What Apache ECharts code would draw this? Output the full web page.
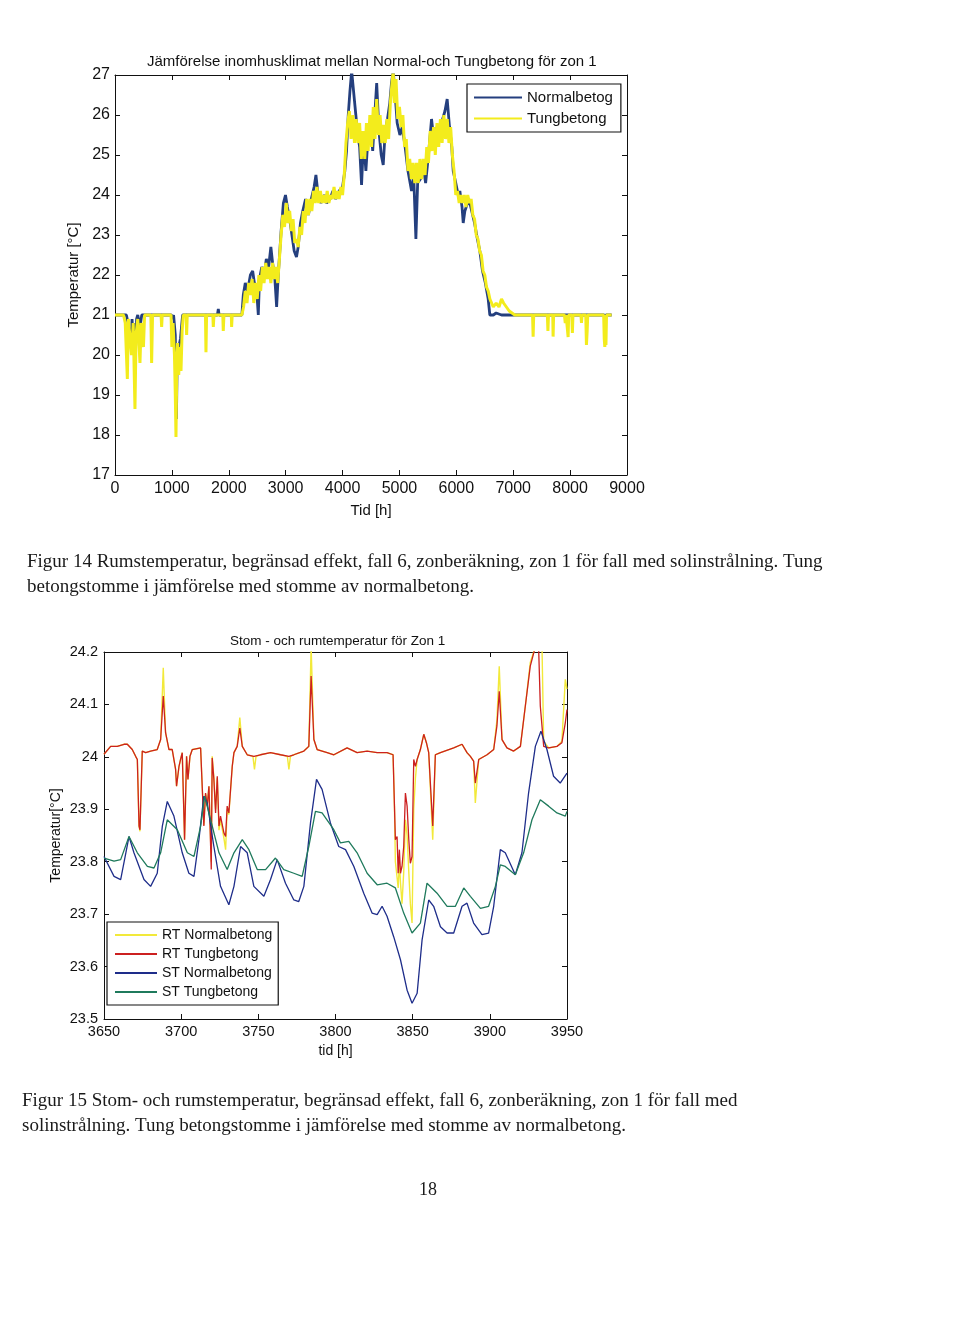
<!DOCTYPE html>
<html>
<head>
<meta charset="utf-8">
<script src="https://cdn.jsdelivr.net/npm/echarts@6/dist/echarts.min.js"></script>
<style>
html,body{margin:0;padding:0;background:#fff;}
#chart{width:960px;height:1344px;}
</style>
</head>
<body>
<div id="chart"></div>
<script>
// ---------- Figure 14: hourly room temperature, zone 1 ----------
const fig14Title = 'Jämförelse inomhusklimat mellan Normal-och Tungbetong för zon 1';
const fig14XTicks = [0, 1000, 2000, 3000, 4000, 5000, 6000, 7000, 8000, 9000];
const fig14YTicks = [17, 18, 19, 20, 21, 22, 23, 24, 25, 26, 27];
const fig14Names = ['Normalbetog', 'Tungbetong'];

// [hour, °C]
const normalbetong = [
[0,21],[200,21],[230,20.8],[260,20.5],[285,20.4],[300,20.9],[320,20.2],[345,20.8],[360,20.1],[380,20.9],[400,21],
[440,20.7],[470,21],[990,21],[1010,20.9],[1030,21],[1060,20.5],[1072,19.2],[1080,18.4],[1095,20.1],[1120,20.2],[1150,20.4],[1189,21],
[1800,21],[1816,21.15],[1830,21],
[2230,21],[2255,21.5],[2290,21.8],[2330,21.6],[2380,22.0],[2420,22.1],[2450,21.8],[2490,21.6],[2519,21.0],[2540,21.9],[2580,22.2],[2620,22.0],[2660,22.4],[2700,22.2],[2740,22.7],[2770,22.3],[2810,21.9],[2841,21.2],[2870,22.0],[2920,23.1],[2960,23.8],[2997,24.0],[3030,23.7],[3070,23.4],[3110,23.0],[3150,22.6],[3190,22.45],[3220,22.7],[3260,23.3],[3300,23.6],[3350,23.9],[3400,23.5],[3450,23.9],[3500,24.2],[3532,24.5],[3570,24.0],[3620,23.8],[3680,24.0],[3720,23.8],[3780,23.9],[3830,24.1],[3880,23.9],[3940,24.1],[4000,24.2],[4040,24.6],[4070,25.1],[4100,26.0],[4130,26.6],[4160,27.1],[4190,27.1],[4220,26.2],[4260,25.6],[4300,25.2],[4334,24.25],[4370,25.4],[4410,24.6],[4450,25.5],[4490,25.8],[4530,25.1],[4570,26.1],[4600,26.8],[4640,25.6],[4680,25.0],[4715,24.75],[4750,25.6],[4790,25.9],[4830,26.3],[4860,26.8],[4890,27.1],[4920,26.6],[4960,25.8],[5008,25.5],[5050,25.7],[5100,25.2],[5150,24.6],[5213,24.1],[5250,24.5],[5289,22.9],[5320,24.3],[5370,24.4],[5420,24.7],[5460,24.3],[5510,25.0],[5564,25.9],[5610,25.3],[5660,25.7],[5710,25.4],[5760,25.9],[5800,26.1],[5839,26.4],[5880,25.7],[5920,25.2],[5945,24.6],[5990,24.3],[6033,24.0],[6062,24.1],[6100,23.7],[6121,23.3],[6150,23.6],[6178,23.55],[6220,23.9],[6270,23.6],[6320,23.3],[6370,22.9],[6413,22.6],[6460,22.1],[6510,21.8],[6560,21.4],[6589,21.0],[6650,21.0],[6700,21.05],[6794,21.0],[8600,21],[8610,20.9],[8630,21],[8730,21]
];
const tungbetong = [
[0,21],[150,21],[180,20.8],[217,19.4],[235,20.9],[260,20.5],[290,20.0],[320,20.8],[351,18.65],[370,20.5],[400,20.9],[439,19.8],[460,20.8],[500,20.2],[520,21],
[630,21],[644,19.8],[660,21],[810,21],[820,20.7],[830,21],[985,21],[1000,20.2],[1020,20.8],[1045,20.0],[1060,19.0],[1072,17.95],[1085,19.5],[1100,20.3],[1120,19.5],[1140,20.2],[1160,19.6],[1180,20.6],[1200,21],[1250,21],[1259,20.5],[1270,21],
[1590,21],[1599,20.07],[1610,21],[1720,21],[1728,20.7],[1740,21],[1895,21],[1903,20.6],[1915,21],[2045,21],[2050,20.7],[2060,21],
[2230,21],[2260,21.2],[2290,21.6],[2320,21.3],[2350,21.8],[2380,21.5],[2410,21.9],[2440,21.3],[2470,21.8],[2500,21.4],[2530,22.0],[2560,21.6],[2590,22.2],[2620,21.8],[2650,22.3],[2680,21.9],[2710,22.2],[2740,21.8],[2770,22.3],[2800,21.9],[2830,22.2],[2860,21.8],[2890,22.4],[2920,23.0],[2950,23.5],[2980,23.2],[3010,23.8],[3040,23.3],[3070,23.6],[3100,23.1],[3130,23.4],[3160,22.8],[3190,22.9],[3220,22.7],[3250,23.2],[3280,23.0],[3310,23.6],[3340,23.3],[3370,23.9],[3400,23.5],[3430,23.9],[3460,23.6],[3490,24.1],[3520,23.8],[3550,24.2],[3580,23.8],[3610,24.1],[3640,23.8],[3670,24.0],[3700,23.8],[3730,24.1],[3760,23.8],[3790,24.0],[3820,23.9],[3850,24.2],[3880,23.9],[3910,24.1],[3940,23.9],[3970,24.2],[4000,24.0],[4030,24.5],[4060,25.3],[4090,25.8],[4120,26.1],[4150,25.4],[4180,26.0],[4210,25.3],[4240,25.9],[4270,25.3],[4300,25.8],[4330,24.9],[4360,25.6],[4390,24.9],[4420,25.8],[4450,25.1],[4480,26.0],[4510,25.2],[4540,26.2],[4570,25.4],[4600,26.4],[4630,25.5],[4660,26.0],[4690,25.3],[4720,25.75],[4750,25.3],[4780,25.9],[4810,25.4],[4840,26.3],[4870,26.8],[4890,27.1],[4910,26.3],[4940,26.9],[4970,25.9],[5000,26.2],[5030,25.7],[5060,26.0],[5090,25.2],[5120,25.4],[5150,24.6],[5180,24.9],[5210,24.4],[5240,24.8],[5270,24.3],[5300,24.8],[5330,24.3],[5360,24.9],[5390,24.4],[5420,24.9],[5450,24.5],[5480,25.2],[5510,24.8],[5540,25.6],[5570,25.1],[5600,25.7],[5630,25.0],[5660,25.8],[5690,25.2],[5720,25.9],[5750,25.3],[5780,26.0],[5810,25.4],[5840,25.9],[5870,25.3],[5900,25.7],[5930,25.0],[5960,24.6],[5990,24.0],[6020,24.1],[6050,23.8],[6080,24.0],[6110,23.8],[6140,24.0],[6170,23.7],[6200,24.0],[6230,23.8],[6260,23.9],[6290,23.5],[6320,23.4],[6350,23.0],[6380,22.9],[6410,22.6],[6440,22.5],[6470,22.1],[6500,22.0],[6530,21.7],[6560,21.6],[6590,21.4],[6620,21.3],[6650,21.2],[6700,21.3],[6750,21.2],[6794,21.4],[6830,21.3],[6880,21.2],[6930,21.1],[7028,21.0],
[7340,21],[7350,20.46],[7360,21],[7600,21],[7610,20.6],[7620,21],[7695,21],[7701,20.46],[7710,21],[7900,21],[7915,20.8],[7930,21],[7955,21],[7965,20.45],[7975,21],[8030,21],[8040,20.55],[8050,21],[8190,21],[8200,20.8],[8210,21],[8275,21],[8287,20.25],[8300,20.6],[8310,21],[8590,21],[8600,20.4],[8610,20.2],[8620,20.5],[8630,20.25],[8640,21],[8730,21]
];

// ---------- Figure 15: structure and room temperature, zone 1 ----------
const fig15Title = 'Stom - och rumtemperatur för Zon 1';
const fig15XTicks = [3650, 3700, 3750, 3800, 3850, 3900, 3950];
const fig15YTicks = [23.5, 23.6, 23.7, 23.8, 23.9, 24.0, 24.1, 24.2];
const fig15Names = ['RT Normalbetong', 'RT Tungbetong', 'ST Normalbetong', 'ST Tungbetong'];

const rtNormal = [
[3650,24.005],[3654.3,24.02],[3658.6,24.02],[3663,24.024],[3665.1,24.024],[3668.3,24.014],[3670.5,24.001],[3671.6,23.995],[3672.7,23.868],[3673.3,23.858],[3674.8,24.011],[3677,24.008],[3680.2,24.011],[3684.5,24.014],[3686.7,24.033],[3688.4,24.17],[3689.9,24.046],[3692.1,24.014],[3694.2,24.014],[3696.4,23.976],[3697,23.944],[3698.6,23.982],[3699.6,23.995],[3700.7,24.008],[3702.2,23.842],[3703.5,24.001],[3704.4,23.957],[3705.7,24.001],[3707.2,24.014],[3712.6,24.017],[3713.7,24.014],[3714.7,23.87],[3715.8,23.93],[3716.9,23.91],[3718,23.944],[3719.5,23.8],[3720.1,24.001],[3721.2,23.96],[3722.3,23.9],[3723.4,23.96],[3724.5,23.86],[3725.5,23.88],[3727.7,23.845],[3728.8,23.823],[3729.8,23.9],[3730.9,23.89],[3733.1,23.982],[3734.2,24.008],[3736.3,24.02],[3738,24.075],[3739.6,24.02],[3742.8,24.004],[3746.5,24.001],[3747.5,23.976],[3748.5,24.001],[3751.4,24.004],[3757.9,24.008],[3764.4,24.004],[3768.8,24.001],[3769.8,23.976],[3770.8,24.001],[3773,24.004],[3779.5,24.011],[3782.7,24.02],[3784.2,24.21],[3786,24.033],[3788.1,24.014],[3794.6,24.008],[3798.9,24.004],[3807.5,24.017],[3814,24.008],[3820.5,24.011],[3827,24.008],[3833.4,24.008],[3837.3,24.004],[3838.2,23.906],[3838.8,23.8],[3839.9,23.77],[3840.6,23.75],[3841.4,23.8],[3842.1,23.76],[3843.1,23.72],[3844.2,23.78],[3845.3,23.88],[3846.4,23.85],[3847.5,23.78],[3848.5,23.72],[3849.6,23.683],[3850.7,23.9],[3851.8,23.96],[3852.9,23.995],[3855,24.014],[3857.2,24.043],[3858.9,24.027],[3860.4,24.008],[3861.5,24.008],[3863,23.842],[3864.7,24.004],[3868,24.008],[3876.6,24.017],[3882,24.024],[3885.2,24.008],[3887.4,24.001],[3889.5,23.992],[3890.6,23.912],[3892.8,23.995],[3898.2,24.004],[3902.5,24.014],[3904.6,24.07],[3906.1,24.173],[3907.9,24.033],[3911.1,24.017],[3915.4,24.011],[3919.8,24.02],[3923,24.097],[3926.2,24.18],[3929.5,24.21],[3933.8,24.21],[3934.9,24.03],[3938.1,24.017],[3943.5,24.02],[3946.7,24.03],[3948.9,24.148],[3950,24.129]
];
const rtTung = [
[3650,24.005],[3654.3,24.02],[3658.6,24.02],[3663,24.024],[3665.1,24.024],[3668.3,24.014],[3670.5,24.001],[3671.6,23.995],[3672.7,23.868],[3673.3,23.861],[3674.8,24.011],[3677,24.008],[3680.2,24.011],[3684.5,24.014],[3686.7,24.033],[3688.4,24.116],[3689.9,24.046],[3692.1,24.014],[3694.2,24.014],[3696.4,23.976],[3697,23.944],[3698.6,23.982],[3699.6,23.995],[3700.7,24.008],[3702.2,23.842],[3703.5,24.001],[3704.4,23.957],[3705.7,24.001],[3707.2,24.014],[3712.6,24.017],[3713.7,24.014],[3714.7,23.868],[3715.8,23.931],[3716.9,23.906],[3718,23.944],[3719.5,23.785],[3720.1,23.998],[3721.2,23.957],[3722.3,23.893],[3723.4,23.963],[3724.5,23.868],[3725.5,23.887],[3727.7,23.855],[3728.8,23.848],[3729.8,23.906],[3730.9,23.893],[3733.1,23.982],[3734.2,24.008],[3736.3,24.02],[3738,24.055],[3739.6,24.02],[3742.8,24.004],[3747.1,24.001],[3751.4,24.004],[3757.9,24.008],[3764.4,24.004],[3769.8,24.001],[3773,24.004],[3779.5,24.011],[3782.7,24.02],[3784.2,24.154],[3786,24.033],[3788.1,24.014],[3794.6,24.008],[3798.9,24.004],[3807.5,24.017],[3814,24.008],[3820.5,24.011],[3827,24.008],[3833.4,24.008],[3837.3,24.004],[3838.2,23.906],[3838.8,23.842],[3839.9,23.848],[3840.6,23.778],[3841.4,23.823],[3842.1,23.778],[3843.1,23.791],[3844.2,23.829],[3845.3,23.931],[3846.4,23.906],[3847.5,23.842],[3848.5,23.797],[3849.6,23.81],[3850.7,23.995],[3851.8,23.982],[3852.9,23.995],[3855,24.014],[3857.2,24.043],[3858.9,24.027],[3860.4,24.008],[3861.5,24.008],[3863,23.868],[3864.7,24.004],[3868,24.008],[3876.6,24.017],[3882,24.024],[3885.2,24.008],[3887.4,24.001],[3889.5,23.992],[3890.6,23.95],[3892.8,23.995],[3898.2,24.004],[3902.5,24.014],[3904.6,24.059],[3906.1,24.125],[3907.9,24.033],[3911.1,24.017],[3915.4,24.011],[3919.8,24.02],[3923,24.097],[3926.2,24.173],[3929.5,24.21],[3931.6,24.21],[3932.7,24.097],[3934.9,24.02],[3938.1,24.017],[3943.5,24.02],[3946.7,24.027],[3948.9,24.065],[3950,24.09]
];
const stNormal = [
[3650,23.81],[3656.5,23.772],[3660.8,23.766],[3666.2,23.848],[3669.4,23.817],[3675.9,23.766],[3680.2,23.753],[3684.5,23.778],[3687.8,23.868],[3691,23.915],[3695.3,23.887],[3700.7,23.817],[3705,23.778],[3708.3,23.772],[3711.5,23.842],[3714.7,23.925],[3716.9,23.912],[3721.2,23.829],[3725.5,23.753],[3730.9,23.718],[3734.2,23.753],[3738.5,23.829],[3742.8,23.817],[3747.1,23.753],[3753.6,23.734],[3757.9,23.766],[3762.2,23.804],[3767.6,23.759],[3773,23.727],[3776.2,23.724],[3779.5,23.753],[3783.8,23.874],[3787.7,23.957],[3791.3,23.938],[3796.7,23.874],[3802.1,23.829],[3806.5,23.823],[3811.9,23.791],[3818.3,23.74],[3823.7,23.702],[3827,23.699],[3830.2,23.715],[3833.4,23.696],[3837.7,23.657],[3842.1,23.613],[3846.4,23.555],[3849.6,23.53],[3852.9,23.549],[3856.1,23.651],[3860.4,23.727],[3863.6,23.715],[3868,23.676],[3872.3,23.664],[3876.6,23.664],[3882,23.715],[3885.2,23.721],[3889.5,23.683],[3894.9,23.661],[3899.2,23.664],[3902.5,23.715],[3906.8,23.823],[3910,23.817],[3916.5,23.775],[3920.8,23.817],[3925.1,23.931],[3929.5,24.02],[3933.1,24.049],[3937,24.014],[3941.3,23.963],[3945.6,23.95],[3950,23.969]
];
const stTung = [
[3650,23.807],[3656.5,23.801],[3660.8,23.804],[3666.2,23.848],[3671.6,23.817],[3678.1,23.791],[3682.4,23.788],[3686.7,23.817],[3691,23.88],[3697.5,23.861],[3704,23.817],[3708.3,23.81],[3712.6,23.868],[3715.2,23.925],[3719.1,23.88],[3724.5,23.817],[3729.8,23.785],[3734.2,23.817],[3739.6,23.842],[3743.9,23.823],[3749.3,23.785],[3754.7,23.785],[3761.1,23.807],[3766.5,23.785],[3773,23.778],[3778.4,23.772],[3782.7,23.829],[3787,23.896],[3791.3,23.893],[3798.9,23.861],[3803.2,23.836],[3808.6,23.839],[3814,23.817],[3820.5,23.778],[3827,23.756],[3833.4,23.759],[3838.8,23.75],[3844.2,23.702],[3849.6,23.664],[3855,23.683],[3859.3,23.759],[3865.8,23.74],[3872.3,23.715],[3877.7,23.715],[3883.1,23.75],[3887.4,23.734],[3893.9,23.711],[3899.2,23.715],[3903.6,23.753],[3906.8,23.794],[3910,23.791],[3916.5,23.775],[3921.9,23.817],[3927.3,23.88],[3932.7,23.918],[3938.1,23.906],[3943.5,23.893],[3948.9,23.887],[3950,23.896]
];

// ---------- page text ----------
const caption14 = [
  'Figur 14 Rumstemperatur, begränsad effekt, fall 6, zonberäkning, zon 1 för fall med solinstrålning. Tung',
  'betongstomme i jämförelse med stomme av normalbetong.'
];
const caption15 = [
  'Figur 15 Stom- och rumstemperatur, begränsad effekt, fall 6, zonberäkning, zon 1 för fall med',
  'solinstrålning. Tung betongstomme i jämförelse med stomme av normalbetong.'
];
const pageNumber = '18';

// ---------- build ----------
const SANS = "'Liberation Sans', Arial, sans-serif";
const SERIF = "'Liberation Serif', 'Times New Roman', serif";
const INK = '#111';
const plainNum = v => String(+(+v).toFixed(1));

function valueAxis(opts) {
  return Object.assign({
    type: 'value',
    axisLine: { show: true, onZero: false, lineStyle: { color: INK, width: 1 } },
    axisTick: { show: true, inside: true, length: 5, lineStyle: { color: INK } },
    splitLine: { show: false },
    axisLabel: { show: false }
  }, opts);
}

const chart = echarts.init(document.getElementById('chart'), null, { renderer: 'canvas' });

const option = {
  backgroundColor: '#ffffff',
  animation: false,
  title: [
    { text: fig14Title, left: 142, top: 49, textStyle: { fontFamily: SANS, fontSize: 15, fontWeight: 'normal', color: INK } },
    { text: fig15Title, left: 225, top: 629, textStyle: { fontFamily: SANS, fontSize: 13.5, fontWeight: 'normal', color: INK } }
  ],
  grid: [
    { left: 115, top: 75, width: 512, height: 400, containLabel: false },
    { left: 104, top: 652, width: 463, height: 367, containLabel: false }
  ],
  xAxis: [
    valueAxis({ gridIndex: 0, position: 'bottom', min: fig14XTicks[0], max: fig14XTicks[fig14XTicks.length - 1], interval: 1000,
      name: 'Tid [h]', nameLocation: 'middle', nameGap: 28, nameTextStyle: { fontFamily: SANS, fontSize: 15, color: INK },
      axisLabel: { show: true, margin: 6, fontFamily: SANS, fontSize: 16, color: INK, formatter: plainNum } }),
    valueAxis({ gridIndex: 0, position: 'top', min: fig14XTicks[0], max: fig14XTicks[fig14XTicks.length - 1], interval: 1000 }),
    valueAxis({ gridIndex: 1, position: 'bottom', min: fig15XTicks[0], max: fig15XTicks[fig15XTicks.length - 1], interval: 50,
      name: 'tid [h]', nameLocation: 'middle', nameGap: 25, nameTextStyle: { fontFamily: SANS, fontSize: 14, color: INK },
      axisLabel: { show: true, margin: 5, fontFamily: SANS, fontSize: 14.5, color: INK, formatter: plainNum } }),
    valueAxis({ gridIndex: 1, position: 'top', min: fig15XTicks[0], max: fig15XTicks[fig15XTicks.length - 1], interval: 50 })
  ],
  yAxis: [
    valueAxis({ gridIndex: 0, position: 'left', min: fig14YTicks[0], max: fig14YTicks[fig14YTicks.length - 1], interval: 1,
      name: 'Temperatur [°C]', nameLocation: 'middle', nameGap: 32, nameTextStyle: { fontFamily: SANS, fontSize: 15, color: INK },
      axisLabel: { show: true, margin: 5, fontFamily: SANS, fontSize: 16, color: INK, formatter: plainNum } }),
    valueAxis({ gridIndex: 0, position: 'right', min: fig14YTicks[0], max: fig14YTicks[fig14YTicks.length - 1], interval: 1 }),
    valueAxis({ gridIndex: 1, position: 'left', min: fig15YTicks[0], max: fig15YTicks[fig15YTicks.length - 1], interval: 0.1,
      name: 'Temperatur[°C]', nameLocation: 'middle', nameGap: 41, nameTextStyle: { fontFamily: SANS, fontSize: 14, color: INK },
      axisLabel: { show: true, margin: 6, fontFamily: SANS, fontSize: 14.5, color: INK, formatter: plainNum } }),
    valueAxis({ gridIndex: 1, position: 'right', min: fig15YTicks[0], max: fig15YTicks[fig15YTicks.length - 1], interval: 0.1 })
  ],
  legend: [
    { data: fig14Names, orient: 'vertical', left: 467, top: 84, padding: [6, 8, 6, 7], itemGap: 6,
      itemWidth: 48, itemHeight: 2, icon: 'rect', borderColor: INK, borderWidth: 1.2, backgroundColor: '#fff',
      textStyle: { fontFamily: SANS, fontSize: 15, color: INK } },
    { data: fig15Names, orient: 'vertical', left: 107, top: 922, padding: [6, 6, 6, 8], itemGap: 5,
      itemWidth: 42, itemHeight: 2, icon: 'rect', borderColor: INK, borderWidth: 1.2, backgroundColor: '#fff',
      textStyle: { fontFamily: SANS, fontSize: 14, color: INK } }
  ],
  series: [
    { name: fig14Names[0], type: 'line', xAxisIndex: 0, yAxisIndex: 0, data: normalbetong, showSymbol: false, clip: true,
      lineStyle: { color: '#243f7e', width: 2.8 }, itemStyle: { color: '#243f7e' } },
    { name: fig14Names[1], type: 'line', xAxisIndex: 0, yAxisIndex: 0, data: tungbetong, showSymbol: false, clip: true,
      lineStyle: { color: '#f3ec1c', width: 3 }, itemStyle: { color: '#f3ec1c' } },
    { name: fig15Names[0], type: 'line', xAxisIndex: 2, yAxisIndex: 2, data: rtNormal, showSymbol: false, clip: true,
      lineStyle: { color: '#f2e93a', width: 1.4 }, itemStyle: { color: '#f2e93a' } },
    { name: fig15Names[1], type: 'line', xAxisIndex: 2, yAxisIndex: 2, data: rtTung, showSymbol: false, clip: true,
      lineStyle: { color: '#cc2020', width: 1.3 }, itemStyle: { color: '#cc2020' } },
    { name: fig15Names[2], type: 'line', xAxisIndex: 2, yAxisIndex: 2, data: stNormal, showSymbol: false, clip: true,
      lineStyle: { color: '#1e2d8a', width: 1.3 }, itemStyle: { color: '#1e2d8a' } },
    { name: fig15Names[3], type: 'line', xAxisIndex: 2, yAxisIndex: 2, data: stTung, showSymbol: false, clip: true,
      lineStyle: { color: '#1f7a5c', width: 1.3 }, itemStyle: { color: '#1f7a5c' } }
  ],
  graphic: [
    { type: 'text', left: 27, top: 553, style: { text: caption14[0], font: '19px ' + SERIF, fill: '#1a1a1a' } },
    { type: 'text', left: 27, top: 578, style: { text: caption14[1], font: '19px ' + SERIF, fill: '#1a1a1a' } },
    { type: 'text', left: 22, top: 1092, style: { text: caption15[0], font: '19px ' + SERIF, fill: '#1a1a1a' } },
    { type: 'text', left: 22, top: 1117, style: { text: caption15[1], font: '19px ' + SERIF, fill: '#1a1a1a' } },
    { type: 'text', left: 419, top: 1181, style: { text: pageNumber, font: '18px ' + SERIF, fill: '#1a1a1a' } }
  ]
};
chart.setOption(option);
</script>
</body>
</html>
